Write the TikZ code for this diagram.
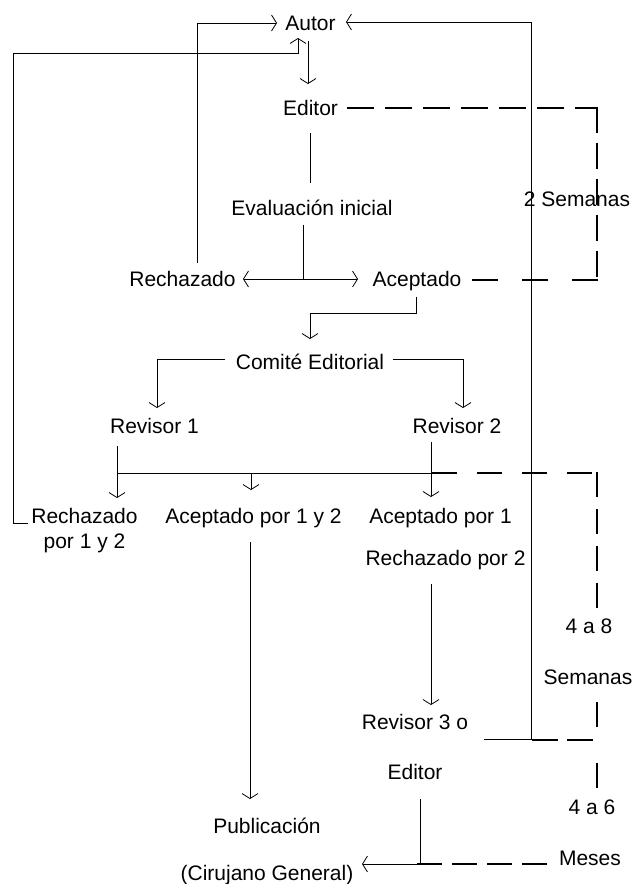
\documentclass[tikz,border=0pt]{standalone}
\usepackage{fontspec}
\setmainfont{Liberation Sans}
\usetikzlibrary{arrows.meta}
\begin{document}
\begin{tikzpicture}[x=1pt,y=-1pt,
  txt/.style={font=\fontsize{21}{25}\selectfont, inner sep=0pt, anchor=base},
  conn/.style={line width=0.8pt},
  arr/.style={conn, -{Straight Barb[length=5pt,width=16pt]}},
  dsh/.style={line width=2pt}]
\useasboundingbox (0,0) rectangle (632,884);
\fill[white] (0,0) rectangle (632,884);
% text nodes
\node[txt] (autor) at (310.5,30.5) {Autor};
\node[txt] (editor) at (310.5,115.5) {Editor};
\node[txt] (eval) at (312,215.5) {Evaluación inicial};
\node[txt] (rech) at (182.5,286.5) {Rechazado};
\node[txt] (acep) at (417,286.5) {Aceptado};
\node[txt] (comite) at (310,369.5) {Comité Editorial};
\node[txt] (rev1) at (154.5,433.5) {Revisor 1};
\node[txt] (rev2) at (457,433.5) {Revisor 2};
\node[txt] (rech12) at (84.5,523.5) {Rechazado};
\node[txt] (rech12b) at (84.5,548.5) {por 1 y 2};
\node[txt] (acep12) at (253.5,523.5) {Aceptado por 1 y 2};
\node[txt] (acep1) at (440.5,523.5) {Aceptado por 1};
\node[txt] (rech2) at (445.5,565.5) {Rechazado por 2};
\node[txt] (rev3) at (415,729.5) {Revisor 3 o};
\node[txt] (editor2) at (415,779.5) {Editor};
\node[txt] (pub) at (267,833.5) {Publicación};
\node[txt] (cir) at (267,880) {(Cirujano General)};
\node[txt] (sem2) at (577,206.5) {2 Semanas};
\node[txt] (t48) at (589,633.5) {4 a 8};
\node[txt] (sem48) at (588,684.5) {Semanas};
\node[txt] (t46) at (592,814.5) {4 a 6};
\node[txt] (meses) at (590,865) {Meses};
% solid connectors
\draw[arr] (197,263) -- (197,23) -- (277,23);
\draw[arr] (484,739) -- (531,739) -- (531,22) -- (346,22);
\draw[arr] (28,523) -- (13,523) -- (13,53) -- (298,53) -- (298,38);
\draw[arr] (308,41) -- (308,84);
\draw[conn] (310,133) -- (310,183);
\draw[conn] (303,225) -- (303,279);
\draw[arr] (303,279) -- (243,279);
\draw[arr] (303,279) -- (358,279);
\draw[arr] (416,297) -- (416,313) -- (310,313) -- (310,339);
\draw[arr] (225,359) -- (157,359) -- (157,408);
\draw[arr] (393,359) -- (463,359) -- (463,408);
\draw[arr] (117,446) -- (117,498);
\draw[conn] (117,473) -- (432,473);
\draw[arr] (251,473) -- (251,490);
\draw[arr] (431,442) -- (431,497);
\draw[arr] (250,542) -- (250,799);
\draw[arr] (431,584) -- (431,705);
\draw[arr] (420,799) -- (420,864) -- (362,864);
% dashed time brackets
\draw[dsh, dash pattern=on 27pt off 11pt] (347,108) -- (597,108);
\draw[dsh, dash pattern=on 26pt off 10pt] (597,107) -- (597,281);
\draw[dsh, dash pattern=on 26pt off 24pt] (598,280) -- (467,280);
\draw[dsh, dash pattern=on 25pt off 20pt] (432,473) -- (598,473);
\draw[dsh, dash pattern=on 25pt off 12pt] (597,472) -- (597,608);
\draw[dsh, dash pattern=on 25pt off 36pt] (597,702) -- (597,788);
\draw[dsh, dash pattern=on 26pt off 9pt] (532,740) -- (597,740);
\draw[dsh, dash pattern=on 25pt off 10pt] (417,864) -- (550,864);
\end{tikzpicture}
\end{document}
